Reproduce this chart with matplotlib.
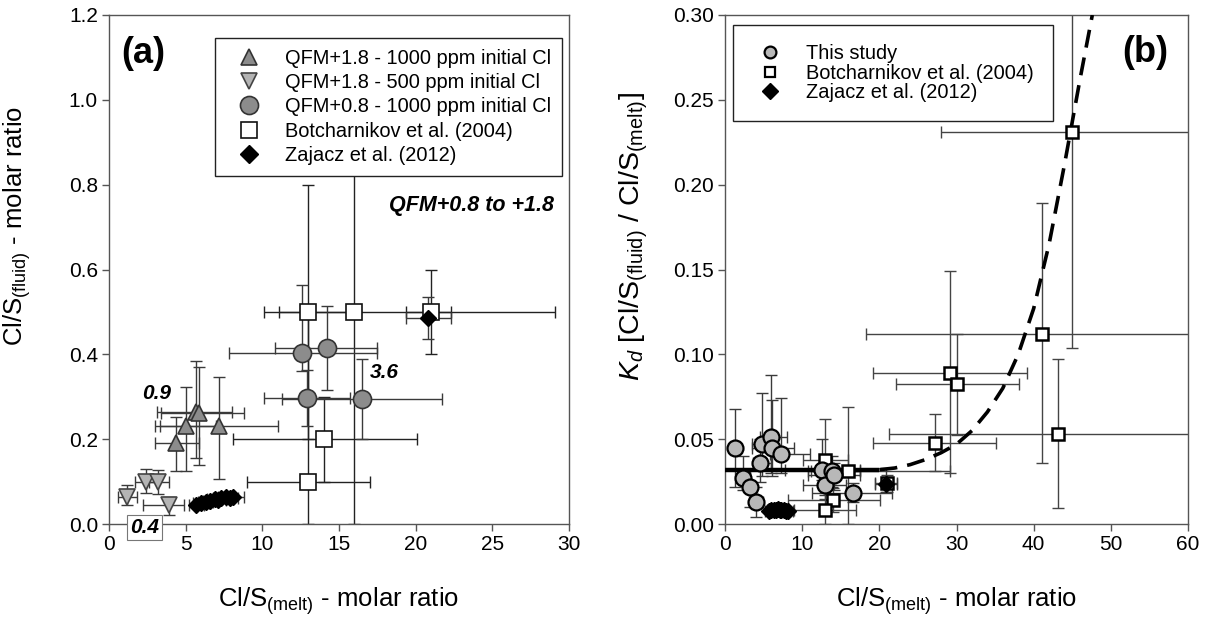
import matplotlib
matplotlib.use('Agg')
import matplotlib.pyplot as plt
from matplotlib.lines import Line2D
from matplotlib.ticker import FormatStrFormatter
import numpy as np

plt.rcParams['font.family'] = ['Liberation Sans', 'DejaVu Sans']
plt.rcParams['mathtext.fontset'] = 'custom'
plt.rcParams['mathtext.rm'] = 'Liberation Sans'
plt.rcParams['mathtext.it'] = 'Liberation Sans:italic'
plt.rcParams['mathtext.bf'] = 'Liberation Sans:bold'

# ---------------- Panel (a) data ----------------
# QFM+1.8 - 1000 ppm initial Cl
t1_x = [5.7, 5.9, 5.0, 7.2, 4.4]
t1_y = [0.265, 0.262, 0.231, 0.230, 0.192]
t1_xlo = [3.1, 3.4, 3.0, 3.3, 3.0]
t1_xhi = [8.0, 8.8, 7.0, 11.0, 5.9]
t1_ylo = [0.156, 0.140, 0.125, 0.106, 0.125]
t1_yhi = [0.384, 0.369, 0.322, 0.347, 0.253]

# QFM+1.8 - 500 ppm initial Cl
t2_x = [1.2, 2.4, 3.2, 3.9]
t2_y = [0.064, 0.100, 0.098, 0.045]
t2_xlo = [0.6, 1.7, 2.6, 2.2]
t2_xhi = [1.8, 3.1, 3.9, 4.9]
t2_ylo = [0.045, 0.072, 0.070, 0.022]
t2_yhi = [0.091, 0.129, 0.128, 0.064]

# QFM+0.8 - 1000 ppm initial Cl
c_x = [12.6, 14.2, 12.9, 16.5]
c_y = [0.404, 0.414, 0.296, 0.295]
c_xlo = [7.8, 10.8, 10.1, 11.3]
c_xhi = [17.5, 17.5, 15.7, 21.7]
c_ylo = [0.360, 0.316, 0.230, 0.200]
c_yhi = [0.564, 0.513, 0.363, 0.389]

# Botcharnikov et al. (2004)
ba_x = [13.0, 16.0, 21.0, 14.0, 13.0]
ba_y = [0.50, 0.50, 0.50, 0.20, 0.10]
ba_xlo = [10.1, 11.1, 19.4, 8.1, 9.0]
ba_xhi = [16.0, 29.1, 22.3, 20.1, 17.0]
ba_ylo = [0.20, 0.00, 0.40, 0.10, 0.00]
ba_yhi = [0.80, 1.10, 0.60, 0.30, 0.50]

# Zajacz et al. (2012)
za_x = [5.7, 6.0, 6.3, 6.6, 6.9, 7.1, 7.3, 7.6, 7.9, 8.1, 20.8]
za_y = [0.045, 0.050, 0.052, 0.055, 0.060, 0.057, 0.062, 0.064, 0.061, 0.063, 0.485]
za_xlo = [5.2, 5.5, 5.8, 6.1, 6.4, 6.6, 6.8, 7.1, 7.4, 7.6, 19.4]
za_xhi = [6.2, 6.5, 6.8, 7.1, 7.4, 7.6, 7.8, 8.1, 8.4, 8.8, 22.3]
za_ylo = [0.040, 0.045, 0.047, 0.050, 0.055, 0.052, 0.057, 0.059, 0.056, 0.058, 0.436]
za_yhi = [0.050, 0.055, 0.057, 0.060, 0.065, 0.062, 0.067, 0.069, 0.066, 0.068, 0.536]

# ---------------- Panel (b) data ----------------
# This study
s_x = [1.3, 2.3, 3.2, 4.0, 4.5, 4.8, 5.9, 6.1, 7.2, 12.6, 12.9, 13.9, 14.1, 16.6]
s_y = [0.045, 0.027, 0.022, 0.013, 0.036, 0.047, 0.051, 0.045, 0.041, 0.032, 0.023, 0.031, 0.029, 0.018]
s_xlo = [0.6, 1.5, 2.4, 3.2, 3.6, 3.5, 4.6, 3.5, 5.8, 7.8, 10.1, 10.8, 10.8, 11.3]
s_xhi = [1.9, 3.2, 3.9, 4.9, 5.9, 6.0, 8.0, 8.9, 11.0, 17.5, 15.7, 17.5, 17.5, 21.7]
s_ylo = [0.022, 0.020, 0.010, 0.004, 0.025, 0.028, 0.030, 0.028, 0.030, 0.026, 0.017, 0.022, 0.020, 0.013]
s_yhi = [0.068, 0.040, 0.032, 0.022, 0.050, 0.077, 0.088, 0.073, 0.074, 0.050, 0.030, 0.040, 0.036, 0.024]

# Botcharnikov et al. (2004)
bb_x = [13.0, 16.0, 14.0, 13.0, 27.2, 29.1, 30.1, 41.1, 43.1, 45.0, 21.0]
bb_y = [0.038, 0.031, 0.014, 0.008, 0.0475, 0.089, 0.0825, 0.112, 0.053, 0.231, 0.024]
bb_xlo = [10.1, 11.1, 8.1, 9.0, 19.2, 19.2, 22.2, 18.3, 21.2, 28.0, 19.4]
bb_xhi = [16.0, 29.1, 20.1, 17.0, 35.1, 39.1, 38.1, 65.0, 65.0, 65.0, 22.3]
bb_ylo = [0.015, 0.000, 0.007, 0.000, 0.031, 0.030, 0.0525, 0.036, 0.0095, 0.104, 0.019]
bb_yhi = [0.062, 0.069, 0.021, 0.038, 0.065, 0.149, 0.112, 0.189, 0.097, 0.400, 0.029]

# Zajacz et al. (2012)
zb_x = [5.7, 6.0, 6.3, 6.6, 6.9, 7.1, 7.3, 7.6, 7.9, 8.1, 20.8]
zb_y = [0.0079, 0.0083, 0.0083, 0.0083, 0.0087, 0.0080, 0.0085, 0.0084, 0.0077, 0.0078, 0.0233]
zb_xlo = [5.2, 5.5, 5.8, 6.1, 6.4, 6.6, 6.8, 7.1, 7.4, 7.6, 19.4]
zb_xhi = [6.2, 6.5, 6.8, 7.1, 7.4, 7.6, 7.8, 8.1, 8.4, 8.8, 22.3]
zb_ylo = [0.0070, 0.0074, 0.0074, 0.0074, 0.0078, 0.0071, 0.0076, 0.0075, 0.0068, 0.0069, 0.019]
zb_yhi = [0.0088, 0.0092, 0.0092, 0.0092, 0.0096, 0.0089, 0.0094, 0.0093, 0.0086, 0.0087, 0.033]

# trend lines (panel b)
solid_x = [0.0, 20.0]
solid_y = [0.032, 0.032]
dash_x = [20, 22, 24, 26, 28, 30, 32, 34, 36, 38, 40, 42, 44, 46, 47.6]
dash_y = [0.032, 0.033, 0.035, 0.038, 0.042, 0.047, 0.055, 0.066, 0.080, 0.100, 0.127, 0.165, 0.212, 0.262, 0.300]

# ---------------- Figure ----------------
W, H = 1212, 626
fig = plt.figure(figsize=(W / 100, H / 100), dpi=100)
axa = fig.add_axes([109 / W, 102 / H, 460 / W, 509 / H])
axb = fig.add_axes([725 / W, 102 / H, 463 / W, 509 / H])

ECOL = '#3a3a3a'


def ebar(ax, x, y, xlo, xhi, ylo, yhi, color=ECOL, lw=1.0, cap=4):
    x = np.asarray(x); y = np.asarray(y)
    xerr = [x - np.asarray(xlo), np.asarray(xhi) - x]
    yerr = [y - np.asarray(ylo), np.asarray(yhi) - y]
    ax.errorbar(x, y, xerr=xerr, yerr=yerr, fmt='none', ecolor=color,
                elinewidth=lw, capsize=cap, capthick=lw, zorder=2)


def style(ax):
    for s in ax.spines.values():
        s.set_color('#555555')
        s.set_linewidth(1.0)
    ax.tick_params(direction='out', length=5, width=1, color='#555555',
                   labelsize=15, pad=3, top=False, right=False)


# ---- panel (a)
ebar(axa, ba_x, ba_y, ba_xlo, ba_xhi, ba_ylo, ba_yhi, color='#222222')
ebar(axa, c_x, c_y, c_xlo, c_xhi, c_ylo, c_yhi)
ebar(axa, t1_x, t1_y, t1_xlo, t1_xhi, t1_ylo, t1_yhi)
ebar(axa, t2_x, t2_y, t2_xlo, t2_xhi, t2_ylo, t2_yhi)
ebar(axa, za_x, za_y, za_xlo, za_xhi, za_ylo, za_yhi)

axa.plot(ba_x, ba_y, 's', ms=11.5, mfc='white', mec='#111111', mew=1.2, zorder=3)
axa.plot(c_x, c_y, 'o', ms=13, mfc='#8c8c8c', mec='#333333', mew=1.2, zorder=4)
axa.plot(t1_x, t1_y, '^', ms=11.5, mfc='#8c8c8c', mec='#333333', mew=1.2, zorder=4)
axa.plot(t2_x, t2_y, 'v', ms=11.5, mfc='#b4b4b4', mec='#444444', mew=1.2, zorder=4)
axa.plot(za_x, za_y, 'D', ms=8, mfc='black', mec='black', zorder=5)

axa.set_xlim(0, 30)
axa.set_ylim(0, 1.2)
axa.set_xticks(np.arange(0, 31, 5))
axa.set_yticks(np.arange(0, 1.21, 0.2))
axa.yaxis.set_major_formatter(FormatStrFormatter('%.1f'))
style(axa)
axa.set_xlabel(r'Cl/S$_{\mathregular{(melt)}}$ - molar ratio', fontsize=18.5)
axa.set_ylabel(r'Cl/S$_{\mathregular{(fluid)}}$ - molar ratio', fontsize=18.5)
axa.xaxis.set_label_coords(0.5, -0.12)
axa.yaxis.set_label_coords(-0.165, 0.585)

handles_a = [
    Line2D([], [], ls='none', marker='^', ms=12, mfc='#8c8c8c', mec='#333333', mew=1.2),
    Line2D([], [], ls='none', marker='v', ms=12, mfc='#b4b4b4', mec='#444444', mew=1.2),
    Line2D([], [], ls='none', marker='o', ms=13, mfc='#8c8c8c', mec='#333333', mew=1.2),
    Line2D([], [], ls='none', marker='s', ms=11, mfc='white', mec='#111111', mew=1.2),
    Line2D([], [], ls='none', marker='D', ms=9, mfc='black', mec='black'),
]
labels_a = ['QFM+1.8 - 1000 ppm initial Cl', 'QFM+1.8 - 500 ppm initial Cl',
            'QFM+0.8 - 1000 ppm initial Cl', 'Botcharnikov et al. (2004)',
            'Zajacz et al. (2012)']
leg = axa.legend(handles_a, labels_a, loc='upper right', bbox_to_anchor=(0.985, 0.955),
                 fontsize=14.4, frameon=True, fancybox=False, edgecolor='#222222',
                 framealpha=1.0, borderpad=0.55, labelspacing=0.26, handlelength=2.3,
                 handletextpad=0.65, borderaxespad=0)
leg.get_frame().set_linewidth(1.0)
leg.set_zorder(10)

axa.text(0.8, 1.11, '(a)', fontsize=26, fontweight='bold', va='center', ha='left')
axa.text(29.0, 0.752, 'QFM+0.8 to +1.8', fontsize=15.5, fontweight='bold', style='italic',
         ha='right', va='center')
axa.text(3.1, 0.307, '0.9', fontsize=15, fontweight='bold', style='italic',
         ha='center', va='center')
axa.text(17.95, 0.357, '3.6', fontsize=15, fontweight='bold', style='italic',
         ha='center', va='center')
axa.text(2.3, -0.009, '0.4', fontsize=15, fontweight='bold', style='italic',
         ha='center', va='center', clip_on=False, zorder=6,
         bbox=dict(boxstyle='square,pad=0.15', fc='white', ec='#777777', lw=0.8))

# ---- panel (b)
ebar(axb, bb_x, bb_y, bb_xlo, bb_xhi, bb_ylo, bb_yhi, color='#444444')
ebar(axb, s_x, s_y, s_xlo, s_xhi, s_ylo, s_yhi)
ebar(axb, zb_x, zb_y, zb_xlo, zb_xhi, zb_ylo, zb_yhi)

axb.plot(solid_x, solid_y, '-', color='black', lw=3.2, zorder=3, solid_capstyle='butt')
axb.plot(dash_x, dash_y, '--', color='black', lw=2.6, dashes=(5, 2.8), zorder=3)

axb.plot(bb_x, bb_y, 's', ms=9, mfc='white', mec='black', mew=1.8, zorder=4)
axb.plot(s_x, s_y, 'o', ms=11.5, mfc='#b8b8b8', mec='black', mew=1.6, zorder=5)
axb.plot(zb_x, zb_y, 'D', ms=8, mfc='black', mec='black', zorder=6)

axb.set_xlim(0, 60)
axb.set_ylim(0, 0.30)
axb.set_xticks(np.arange(0, 61, 10))
axb.set_yticks(np.arange(0, 0.301, 0.05))
axb.yaxis.set_major_formatter(FormatStrFormatter('%.2f'))
style(axb)
axb.set_xlabel(r'Cl/S$_{\mathregular{(melt)}}$ - molar ratio', fontsize=18.5)
axb.set_ylabel(r'$K_d$ [Cl/S$_{\mathregular{(fluid)}}$ / Cl/S$_{\mathregular{(melt)}}$]', fontsize=20.5)
axb.xaxis.set_label_coords(0.5, -0.12)
axb.yaxis.set_label_coords(-0.162, 0.565)

handles_b = [
    Line2D([], [], ls='none', marker='o', ms=8.5, mfc='#b8b8b8', mec='black', mew=1.6),
    Line2D([], [], ls='none', marker='s', ms=7, mfc='white', mec='black', mew=1.6),
    Line2D([], [], ls='none', marker='D', ms=8, mfc='black', mec='black'),
]
labels_b = ['This study', 'Botcharnikov et al. (2004)', 'Zajacz et al. (2012)']
legb = axb.legend(handles_b, labels_b, loc='upper left', bbox_to_anchor=(0.017, 0.98),
                  fontsize=14.4, frameon=True, fancybox=False, edgecolor='#222222',
                  framealpha=1.0, borderpad=0.95, labelspacing=0.02, handlelength=1.85,
                  handletextpad=0.88, borderaxespad=0)
legb.get_frame().set_linewidth(1.0)
legb.set_zorder(10)

axb.text(51.5, 0.278, '(b)', fontsize=26, fontweight='bold', va='center', ha='left')

fig.savefig('out.png', dpi=100)
